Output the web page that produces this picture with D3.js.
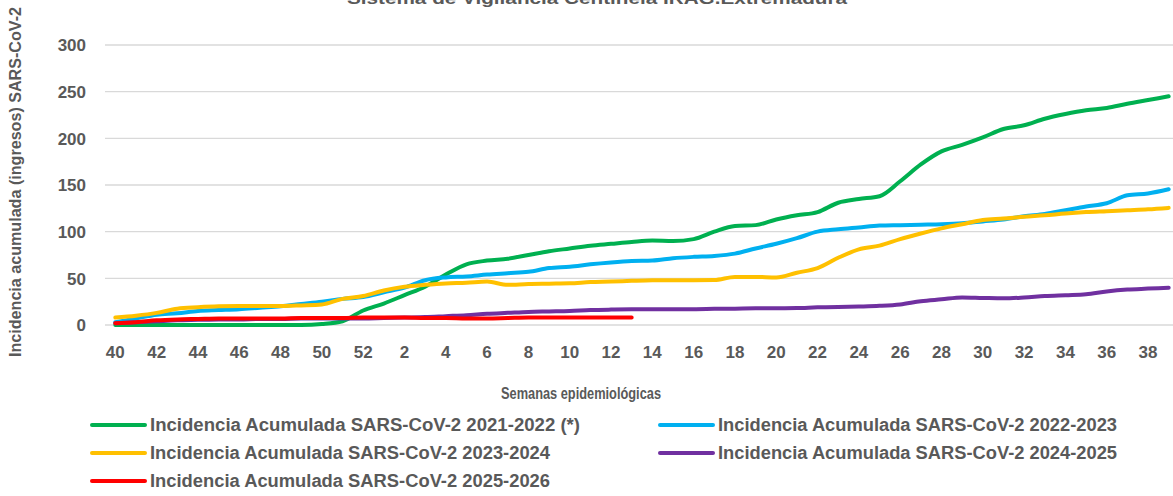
<!DOCTYPE html>
<html>
<head>
<meta charset="utf-8">
<script src="https://cdn.jsdelivr.net/npm/d3@7"></script>
<style>
html,body{margin:0;padding:0;background:#fff;}
svg{display:block;}
text{font-family:"Liberation Sans",Arial,sans-serif;font-weight:bold;fill:#595959;}
</style>
</head>
<body>
<svg id="chart" width="1173" height="496"></svg>
<script>
const weeks = [40,41,42,43,44,45,46,47,48,49,50,51,52,1,2,3,4,5,6,7,8,9,10,11,12,13,14,15,16,17,18,19,20,21,22,23,24,25,26,27,28,29,30,31,32,33,34,35,36,37,38,39];
const tickWeeks = [40,42,44,46,48,50,52,2,4,6,8,10,12,14,16,18,20,22,24,26,28,30,32,34,36,38];
const yTicks = [0,50,100,150,200,250,300];

const s2021 = [0,0,0,0,0,0,0,0,0,0,1,4,15.5,23,32,41,54,65,69,71,75,79,82,85,87,89,90.5,90,92,100,106,107,113,117.5,121,131,135,138,154,172,186,193,201,210,214,221,226,230,232.5,237,241,245];
const s2022 = [3,7,11,12.5,15,16,17,18.5,20,22.5,25,28,30,35,40,48,51,52,54,55.5,57,61,62.5,65,67,68.5,69,71.5,73,74,76.5,82,87,93,100,102.5,104.5,106.5,107,107.5,108,109,111,113,116.5,119,123,127,130.5,139,141,145.5];
const s2023 = [8,10,13,17.5,19,20,20.3,20.3,20.3,21,22,28,31,37,41,43,44.5,45.2,46.5,43,44,44.3,44.6,46,46.5,47.3,47.9,48,48,48.2,51.5,51.5,51,56,61,72,81,85,92,98,103.5,108,112.5,114,116,117.5,119.5,121,122,123,124,125.5];
const s2024 = [2,3,4,5,5.5,6,6,6.5,6.5,7,7,7,7,7.5,8,8.5,9.5,10.5,12,13,14,14.5,15,16,16.5,16.8,16.8,17,17,17.3,17.5,17.9,18,18.2,18.9,19.3,19.8,20.5,22,25.5,27.5,29.5,29,28.6,29.5,31,32,33,36,38,39,40];
const s2025 = [2,3,5,6,6.5,7,7,7,7,7.5,7.5,7.5,8,8,8,7.5,7.5,7,7,7.5,8,8,8,8,8,8];

const seriesNames = [
  "Incidencia Acumulada SARS-CoV-2 2021-2022 (*)",
  "Incidencia Acumulada SARS-CoV-2 2022-2023",
  "Incidencia Acumulada SARS-CoV-2 2023-2024",
  "Incidencia Acumulada SARS-CoV-2 2024-2025",
  "Incidencia Acumulada SARS-CoV-2 2025-2026"
];
const seriesColors = ["#00B050","#00B0F0","#FFC000","#7030A0","#FF0000"];
const seriesValues = [s2021,s2022,s2023,s2024,s2025];

const titleText = "Sistema de Vigilancia Centinela IRAG.Extremadura";
const yTitleText = "Incidencia acumulada (ingresos) SARS-CoV-2";
const xTitleText = "Semanas epidemiológicas";

const svg = d3.select("#chart");
const plotLeft = 105, plotRight = 1179, plotTop = 45, plotBottom = 325;

const x = d3.scaleBand().domain(d3.range(weeks.length)).range([plotLeft, plotRight]);
const xc = i => x(i) + x.bandwidth()/2;
const y = d3.scaleLinear().domain([0,300]).range([plotBottom, plotTop]);

// gridlines
svg.append("g").selectAll("line").data(yTicks).join("line")
  .attr("x1", plotLeft).attr("x2", 1173)
  .attr("y1", d => y(d)).attr("y2", d => y(d))
  .attr("stroke", "#d9d9d9").attr("stroke-width", 1.3);

// y axis labels
const yAxis = d3.axisLeft(y).tickValues(yTicks).tickSize(0).tickPadding(0);
const gy = svg.append("g").attr("transform", "translate(86,0)").call(yAxis);
gy.select(".domain").remove();
gy.selectAll("text").style("font-size","17px").style("fill","#595959").attr("dy","0.35em")
  .style("font-family", '"Liberation Sans",Arial,sans-serif').style("font-weight","bold");

// x axis labels
const labelIdx = [];
let searchFrom = 0;
tickWeeks.forEach(w => {
  const k = weeks.indexOf(w, searchFrom);
  labelIdx.push(k); searchFrom = k + 1;
});
const xAxis = d3.axisBottom(x).tickValues(labelIdx).tickFormat(i => weeks[i]).tickSize(0).tickPadding(0);
const gx = svg.append("g").attr("transform", "translate(0,346)").call(xAxis);
gx.select(".domain").remove();
gx.selectAll("text").style("font-size","17px").style("fill","#595959")
  .style("font-family", '"Liberation Sans",Arial,sans-serif').style("font-weight","bold");

// lines
const line = d3.line().x((d,i) => xc(i)).y(d => y(d)).curve(d3.curveMonotoneX);
svg.append("g").selectAll("path").data(seriesValues).join("path")
  .attr("d", d => line(d))
  .attr("fill", "none")
  .attr("stroke", (d,i) => seriesColors[i])
  .attr("stroke-width", 4)
  .attr("stroke-linejoin", "round")
  .attr("stroke-linecap", "round");

// title (cropped at top, as in the reference)
svg.append("text").attr("x", 597).attr("y", 4).attr("text-anchor","middle")
  .attr("textLength", 500).attr("lengthAdjust","spacingAndGlyphs")
  .style("font-size","17px").text(titleText);

// y title
svg.append("text").attr("transform","translate(21,182) rotate(-90)").attr("text-anchor","middle")
  .attr("textLength", 350).attr("lengthAdjust","spacingAndGlyphs")
  .style("font-size","16px").text(yTitleText);

// x title
svg.append("text").attr("x", 581).attr("y", 399).attr("text-anchor","middle")
  .attr("textLength", 160).attr("lengthAdjust","spacingAndGlyphs")
  .style("font-size","17px").text(xTitleText);

// legend
const legPos = [
  {lx:92, ty:425, tw:430},
  {lx:660, ty:425, tw:399},
  {lx:92, ty:453, tw:400},
  {lx:660, ty:453, tw:399},
  {lx:92, ty:481, tw:400}
];
const leg = svg.append("g").selectAll("g").data(seriesNames).join("g");
leg.append("line")
  .attr("x1", (d,i) => legPos[i].lx).attr("x2", (d,i) => legPos[i].lx + 53)
  .attr("y1", (d,i) => legPos[i].ty).attr("y2", (d,i) => legPos[i].ty)
  .attr("stroke", (d,i) => seriesColors[i]).attr("stroke-width", 4).attr("stroke-linecap","round");
leg.append("text")
  .attr("x", (d,i) => legPos[i].lx + 58).attr("y", (d,i) => legPos[i].ty).attr("dy","0.35em")
  .attr("textLength", (d,i) => legPos[i].tw).attr("lengthAdjust","spacingAndGlyphs")
  .style("font-size","18px").text(d => d);
</script>
</body>
</html>
